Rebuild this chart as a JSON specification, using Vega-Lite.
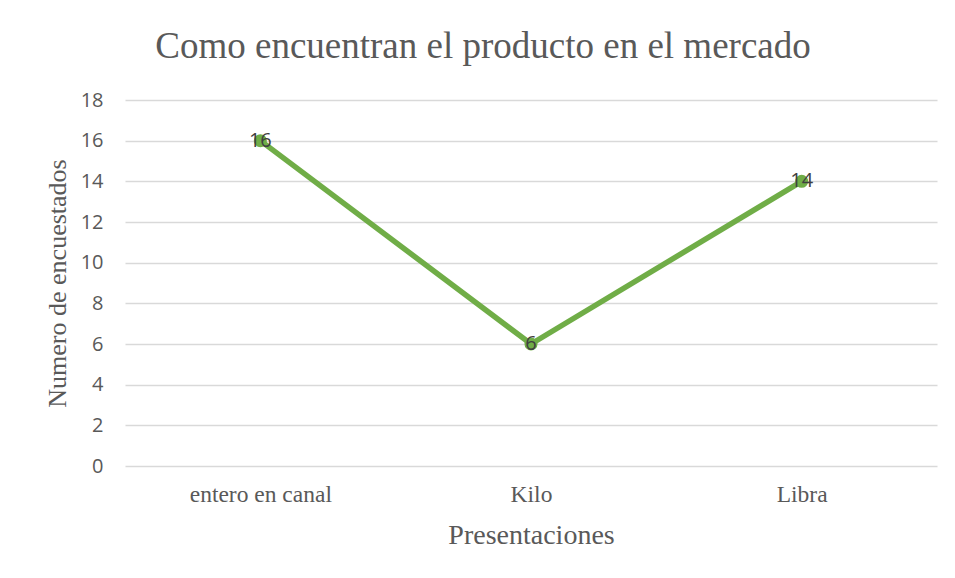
{
  "$schema": "https://vega.github.io/schema/vega-lite/v6.json",
  "autosize": {"type": "none"},
  "padding": {"left": 125, "top": 100, "right": 18, "bottom": 112},
  "width": 812,
  "height": 366,
  "background": "white",
  "title": {
    "text": "Como encuentran el producto en el mercado",
    "font": "Liberation Serif",
    "fontSize": 37,
    "fontWeight": "normal",
    "color": "#595959",
    "anchor": "middle",
    "frame": "group",
    "dx": -48,
    "offset": 24
  },
  "data": {
    "values": [
      {"Presentacion": "entero en canal", "Numero": 16},
      {"Presentacion": "Kilo", "Numero": 6},
      {"Presentacion": "Libra", "Numero": 14}
    ]
  },
  "encoding": {
    "x": {
      "field": "Presentacion",
      "type": "nominal",
      "sort": null,
      "scale": {"type": "point", "padding": 0.5},
      "axis": {
        "title": "Presentaciones",
        "labelAngle": 0,
        "domain": false,
        "ticks": false,
        "tickSize": 0,
        "grid": false,
        "labelFont": "Liberation Serif",
        "labelFontSize": 23.5,
        "labelColor": "#595959",
        "labelPadding": 16,
        "titleFont": "Liberation Serif",
        "titleFontSize": 28,
        "titleFontWeight": "normal",
        "titleColor": "#595959",
        "titlePadding": 16
      }
    },
    "y": {
      "field": "Numero",
      "type": "quantitative",
      "scale": {"domain": [0, 18]},
      "axis": {
        "title": "Numero de encuestados",
        "values": [0, 2, 4, 6, 8, 10, 12, 14, 16, 18],
        "domain": false,
        "ticks": false,
        "tickSize": 0,
        "grid": true,
        "gridColor": "#d9d9d9",
        "gridWidth": 1.3,
        "labelFont": "Open Sans",
        "labelFontSize": 20,
        "labelColor": "#595959",
        "labelPadding": 22,
        "titleFont": "Liberation Serif",
        "titleFontSize": 26,
        "titleFontWeight": "normal",
        "titleColor": "#595959",
        "titlePadding": 10
      }
    }
  },
  "layer": [
    {
      "mark": {"type": "line", "color": "#70AD47", "strokeWidth": 5.5}
    },
    {
      "mark": {"type": "point", "filled": true, "opacity": 1, "color": "#70AD47", "size": 170}
    },
    {
      "mark": {"type": "text", "font": "Open Sans", "fontSize": 20, "color": "#404040", "baseline": "middle", "align": "center"},
      "encoding": {"text": {"field": "Numero", "type": "quantitative"}}
    }
  ],
  "config": {"view": {"stroke": null}}
}
